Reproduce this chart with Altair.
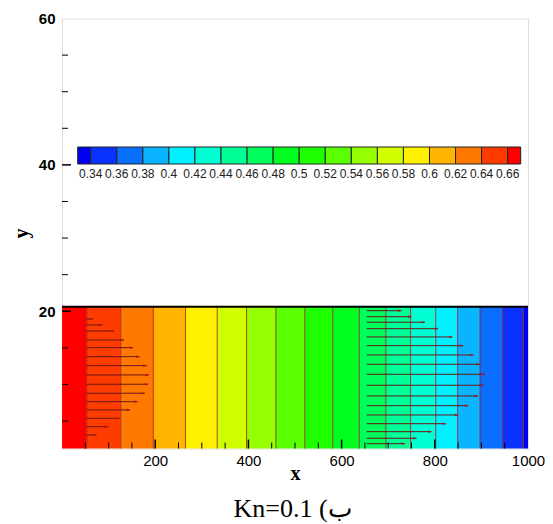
import altair as alt
import pandas as pd

# ---------------- data ----------------
LEVELS = [0.34, 0.36, 0.38, 0.40, 0.42, 0.44, 0.46, 0.48, 0.50,
          0.52, 0.54, 0.56, 0.58, 0.60, 0.62, 0.64, 0.66]
# x position where the field equals each level (same order as LEVELS)
CONTOUR_X = [990, 945, 897, 849, 802, 748, 695, 638, 581,
             521, 459, 396, 333, 265, 196, 126, 53]
BAND_COLORS = ["#0000f0", "#0a32ff", "#0a6eff", "#0ab4ff", "#00f0ff", "#00ffd2",
               "#00ff96", "#00ff5a", "#00ff1e", "#1eff00", "#5aff00", "#96ff00",
               "#d2ff00", "#fff000", "#ffb400", "#ff7800", "#ff3c00", "#ff0000"]
X_DOMAIN = [0, 1000]
Y_DOMAIN = [1.25, 60]
CHANNEL_TOP = 20.6

LEFT_X0 = 53
LEFT_Y = [18.95, 18.13, 17.31, 16.08, 15.03, 13.80, 12.57, 11.30,
          10.03, 8.80, 7.65, 6.52, 5.38, 4.23, 3.10]
LEFT_TIP = [67, 87, 112, 133, 153, 167, 182, 187, 185, 178, 162, 146, 124, 99, 74]

RIGHT_X0 = 654
RIGHT_Y = [20.08, 19.26, 18.50, 17.62, 16.49, 15.30, 14.03, 12.76, 11.39,
           9.89, 8.43, 7.10, 5.83, 4.64, 3.55, 2.65, 1.91]
RIGHT_TIP = [729, 750, 779, 807, 838, 861, 883, 897, 908,
             904, 893, 872, 850, 824, 793, 761, 736]

X_LABELS = [200, 400, 600, 800, 1000]
Y_LABELS = [20, 40, 60]
X_MAJOR_TICKS = [200, 400, 600, 800]
X_MINOR_TICKS = [v for v in range(50, 1000, 50) if v % 200]
Y_MAJOR_TICKS = [20, 40]
Y_MINOR_TICKS = [v for v in range(5, 60, 5) if v % 20]
CAPTION = "Kn=0.1 (ب"

# ---------------- tables ----------------
W, H = 466, 430
step = LEVELS[1] - LEVELS[0]
lv_desc = sorted(LEVELS, reverse=True)
xs = [X_DOMAIN[0]] + sorted(CONTOUR_X) + [X_DOMAIN[1]]
vals = [lv_desc[0] + step / 2] + [(lv_desc[i] + lv_desc[i + 1]) / 2 for i in range(len(lv_desc) - 1)] + [lv_desc[-1] - step / 2]
bands = pd.DataFrame({"x0": xs[:-1], "x1": xs[1:], "v": vals,
                      "y0": Y_DOMAIN[0], "y1": CHANNEL_TOP})
lines = pd.DataFrame({"x": CONTOUR_X, "y0": Y_DOMAIN[0], "y1": CHANNEL_TOP})
wall = pd.DataFrame({"x0": [X_DOMAIN[0]], "x1": [X_DOMAIN[1]], "y": [CHANNEL_TOP]})
arrows = pd.DataFrame({
    "x0": [LEFT_X0] * len(LEFT_Y) + [RIGHT_X0] * len(RIGHT_Y),
    "x1": LEFT_TIP + RIGHT_TIP,
    "y": LEFT_Y + RIGHT_Y,
})
leg_lo = [LEVELS[0] - step / 2] + LEVELS
leg_hi = LEVELS + [LEVELS[-1] + step / 2]
legend_cells = pd.DataFrame({"lo": leg_lo, "hi": leg_hi,
                             "v": [(a + b) / 2 for a, b in zip(leg_lo, leg_hi)]})
legend_labels = pd.DataFrame({"v": LEVELS, "t": [f"{v:g}" for v in LEVELS]})

XS = alt.Scale(domain=X_DOMAIN, nice=False, zero=False)
YS = alt.Scale(domain=Y_DOMAIN, nice=False, zero=False)
XA = alt.Axis(values=X_LABELS, format="d", ticks=False, domain=False, grid=False,
              labelFont="Liberation Sans", labelFontSize=15, labelColor="black",
              labelPadding=5, labelFlush=False, labelOverlap=False,
              title="x", titleFont="Liberation Serif", titleFontSize=20,
              titleFontWeight="bold", titleColor="black", titleX=233, titleY=25,
              titleBaseline="middle", titleAlign="center")
YA = alt.Axis(values=Y_LABELS, format="d", ticks=False, domain=False, grid=False,
              labelFont="Liberation Sans", labelFontSize=15, labelFontWeight="bold",
              labelColor="black", labelPadding=7, labelFlush=False, labelOverlap=False,
              title="y", titleFont="Liberation Serif", titleFontSize=20,
              titleFontWeight="bold", titleColor="black", titleX=-41, titleY=214.5,
              titleAngle=270, titleBaseline="middle", titleAlign="center")
CS = alt.Scale(type="threshold", domain=LEVELS, range=BAND_COLORS)


def xq(f):
    return alt.X(f, type="quantitative", scale=XS, axis=XA)


def yq(f):
    return alt.Y(f, type="quantitative", scale=YS, axis=YA)


band_layer = alt.Chart(bands).mark_rect(strokeWidth=0).encode(
    x=xq("x0"), x2="x1", y=yq("y0"), y2="y1",
    color=alt.Color("v:Q", scale=CS, legend=None))
line_layer = alt.Chart(lines).mark_rule(color="#9b1c1c", strokeWidth=1, opacity=0.8).encode(
    x=xq("x"), y=yq("y0"), y2="y1")
wall_layer = alt.Chart(wall).mark_rule(color="black", strokeWidth=2).encode(
    x=xq("x0"), x2="x1", y=yq("y"))
arrow_lines = alt.Chart(arrows).mark_rule(color="#6a1616", strokeWidth=1).encode(
    x=xq("x0"), x2="x1", y=yq("y"))
arrow_heads = alt.Chart(arrows).mark_point(
    shape="M0,0L-2,-0.75L-2,0.75Z", filled=True, size=12.25, opacity=1,
    color="#b01818").encode(x=xq("x1"), y=yq("y"))

xmaj = alt.Chart(pd.DataFrame({"x": X_MAJOR_TICKS})).mark_rule(color="black", strokeWidth=1.5).encode(
    x=xq("x"), y=alt.value(H), y2=alt.value(H - 9))
xmin = alt.Chart(pd.DataFrame({"x": X_MINOR_TICKS})).mark_rule(color="black", strokeWidth=1).encode(
    x=xq("x"), y=alt.value(H), y2=alt.value(H - 6))
ymaj = alt.Chart(pd.DataFrame({"y": Y_MAJOR_TICKS})).mark_rule(color="black", strokeWidth=1.5).encode(
    y=yq("y"), x=alt.value(0), x2=alt.value(9))
ymin = alt.Chart(pd.DataFrame({"y": Y_MINOR_TICKS})).mark_rule(color="black", strokeWidth=1).encode(
    y=yq("y"), x=alt.value(0), x2=alt.value(6))

caption = alt.Chart(pd.DataFrame({"t": [CAPTION]})).mark_text(
    font="Liberation Serif", fontSize=26, align="center", baseline="alphabetic",
    color="black").encode(text="t:N", x=alt.value(230.5), y=alt.value(498))

main = alt.layer(band_layer, line_layer, wall_layer, arrow_lines, arrow_heads,
                 xmaj, xmin, ymaj, ymin, caption)

LS = alt.Scale(domain=[LEVELS[0] - step / 2, LEVELS[-1] + step / 2], range=[15.7, 458.7])
leg_rect = alt.Chart(legend_cells).mark_rect(stroke="#222222", strokeWidth=1).encode(
    x=alt.X("lo:Q", scale=LS, axis=None), x2="hi",
    y=alt.value(128.5), y2=alt.value(145.5),
    color=alt.Color("v:Q", scale=CS, legend=None))
leg_text = alt.Chart(legend_labels).mark_text(
    font="Liberation Sans", fontSize=12, align="center", baseline="alphabetic",
    color="#222222").encode(x=alt.X("v:Q", scale=LS, axis=None), text="t:N",
                            y=alt.value(159))
legend = alt.layer(leg_rect, leg_text)

chart = alt.layer(main, legend).resolve_scale(x="independent").properties(
    width=W, height=H,
    autosize=alt.AutoSizeParams(type="none"),
    padding={"left": 54, "top": 10.5, "right": 17, "bottom": 76},
).configure_view(stroke="black", strokeWidth=2).configure(background="white")

chart.save("out.html", embed_options={"renderer": "svg", "actions": False})
